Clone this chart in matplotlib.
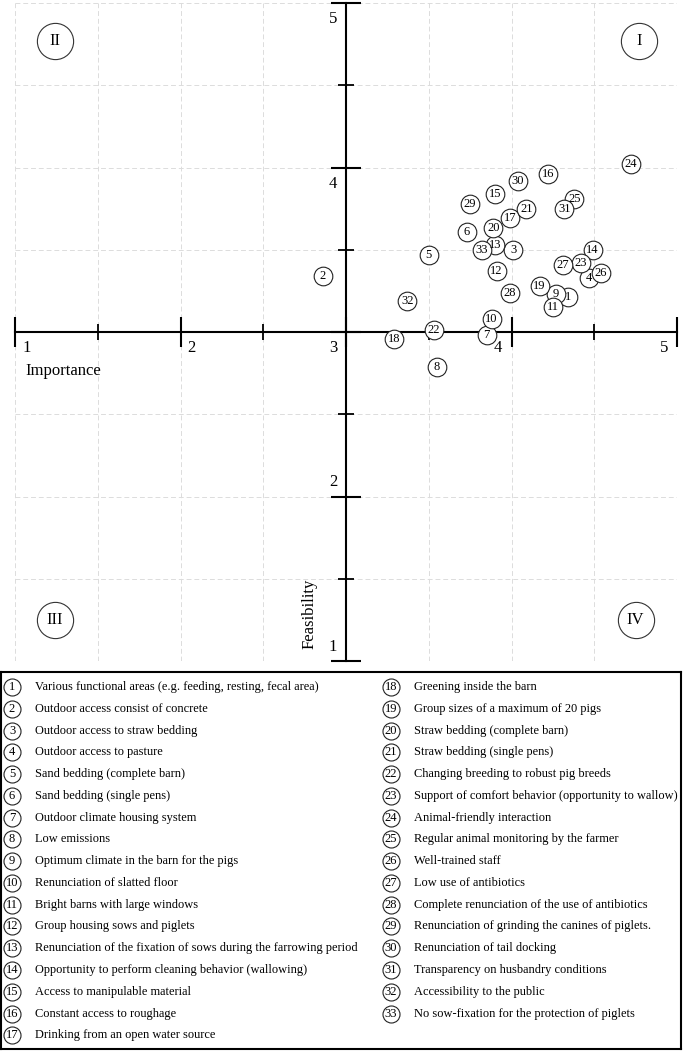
import matplotlib.pyplot as plt
import numpy as np

plt.rcParams['font.family'] = ['Liberation Serif', 'DejaVu Serif']

# importance (x) and feasibility (y) per item
ids = list(range(1, 34))
importance = [4.34, 2.86, 4.01, 4.47, 3.50, 3.73, 3.85, 3.55, 4.27, 3.88,
              4.25, 3.91, 3.90, 4.49, 3.90, 4.22, 3.99, 3.29, 4.17, 3.89,
              4.09, 3.53, 4.42, 4.72, 4.38, 4.54, 4.31, 3.99, 3.75, 4.04,
              4.32, 3.37, 3.82]
feasibility = [3.21, 3.34, 3.50, 3.33, 3.47, 3.61, 2.98, 2.79, 3.23, 3.08,
               3.15, 3.37, 3.53, 3.50, 3.84, 3.96, 3.69, 2.96, 3.28, 3.63,
               3.75, 3.01, 3.42, 4.02, 3.81, 3.36, 3.41, 3.24, 3.78, 3.92,
               3.75, 3.19, 3.50]

labels = [
    "Various functional areas (e.g. feeding, resting, fecal area)",
    "Outdoor access consist of concrete",
    "Outdoor access to straw bedding",
    "Outdoor access to pasture",
    "Sand bedding (complete barn)",
    "Sand bedding (single pens)",
    "Outdoor climate housing system",
    "Low emissions",
    "Optimum climate in the barn for the pigs",
    "Renunciation of slatted floor",
    "Bright barns with large windows",
    "Group housing sows and piglets",
    "Renunciation of the fixation of sows during the farrowing period",
    "Opportunity to perform cleaning behavior (wallowing)",
    "Access to manipulable material",
    "Constant access to roughage",
    "Drinking from an open water source",
    "Greening inside the barn",
    "Group sizes of a maximum of 20 pigs",
    "Straw bedding (complete barn)",
    "Straw bedding (single pens)",
    "Changing breeding to robust pig breeds",
    "Support of comfort behavior (opportunity to wallow)",
    "Animal-friendly interaction",
    "Regular animal monitoring by the farmer",
    "Well-trained staff",
    "Low use of antibiotics",
    "Complete renunciation of the use of antibiotics",
    "Renunciation of grinding the canines of piglets.",
    "Renunciation of tail docking",
    "Transparency on husbandry conditions",
    "Accessibility to the public",
    "No sow-fixation for the protection of piglets",
]

quadrants = ['I', 'II', 'III', 'IV']
quad_x = [4.77, 1.24, 1.24, 4.75]
quad_y = [4.77, 4.77, 1.25, 1.25]

W, H = 685, 1051
fig = plt.figure(figsize=(W / 100, H / 100), dpi=100)
ax = fig.add_axes([15 / W, 1 - 661 / H, 662 / W, 658 / H])
ax.set_xlim(1, 5)
ax.set_ylim(1, 5)

ax.set_xticks([1, 2, 3, 4, 5])
ax.set_yticks([1, 2, 3, 4, 5])
ax.set_xticks(np.arange(1.5, 5, 1), minor=True)
ax.set_yticks(np.arange(1.5, 5, 1), minor=True)
ax.grid(which='both', color='#dcdcdc', linestyle=(0, (5, 3)), linewidth=0.7)
ax.set_axisbelow(True)

for s in ['top', 'right']:
    ax.spines[s].set_visible(False)
ax.spines['left'].set_position(('data', 3))
ax.spines['bottom'].set_position(('data', 3))
for s in ['left', 'bottom']:
    ax.spines[s].set_linewidth(1.5)
    ax.spines[s].set_zorder(2)
ax.tick_params(which='major', direction='inout', length=21, width=1.5,
               labelbottom=False, labelleft=False)
ax.tick_params(which='minor', direction='inout', length=12, width=1.3)

# tick numbers, offsets in points
px = 0.72
for v in [1, 2]:
    ax.annotate(str(v), (v, 3), xytext=(7 * px, -16 * px), textcoords='offset points',
                ha='left', va='center', fontsize=12)
for v in [3, 4, 5]:
    ax.annotate(str(v), (v, 3), xytext=(-9 * px, -16 * px), textcoords='offset points',
                ha='right', va='center', fontsize=12)
for v in [4, 5]:
    ax.annotate(str(v), (3, v), xytext=(-9 * px, -16 * px), textcoords='offset points',
                ha='right', va='center', fontsize=12)
for v in [1, 2]:
    ax.annotate(str(v), (3, v), xytext=(-9 * px, 14 * px), textcoords='offset points',
                ha='right', va='center', fontsize=12)

ax.text(1.06, 2.765, 'Importance', ha='left', va='center', fontsize=12)
ax.text(2.78, 1.07, 'Feasibility', rotation=90, ha='center', va='bottom', fontsize=12)

# quadrant markers
ax.scatter(quad_x, quad_y, s=680, facecolor='white', edgecolor='#333333',
           linewidth=0.8, zorder=3, clip_on=False)
for q, x, y in zip(quadrants, quad_x, quad_y):
    ax.text(x, y, q, ha='center', va='center', fontsize=12, zorder=4)

# items
ax.scatter(importance, feasibility, s=180, facecolor='white', edgecolor='#222222',
           linewidth=0.8, zorder=5, clip_on=False)
for i, x, y in zip(ids, importance, feasibility):
    ax.text(x, y, str(i), ha='center', va='center', fontsize=9, zorder=6)

# legend box
lax = fig.add_axes([1 / W, 1 - 1049 / H, 680 / W, 377 / H])
lax.set_xlim(0, 680)
lax.set_ylim(377, 0)
lax.set_xticks([])
lax.set_yticks([])
for s in lax.spines.values():
    s.set_linewidth(1.5)

rows = 17
for k, (i, lab) in enumerate(zip(ids, labels)):
    col = k // rows
    row = k % rows
    cx = 11 + col * 379
    cy = 15 + row * 21.77
    lax.scatter([cx], [cy], s=150, facecolor='white', edgecolor='#222222',
                linewidth=0.8, zorder=3)
    lax.text(cx, cy, str(i), ha='center', va='center', fontsize=9, zorder=4)
    lax.text(cx + 23, cy, lab, ha='left', va='center', fontsize=8.9)

fig.savefig('out.png', dpi=100)
